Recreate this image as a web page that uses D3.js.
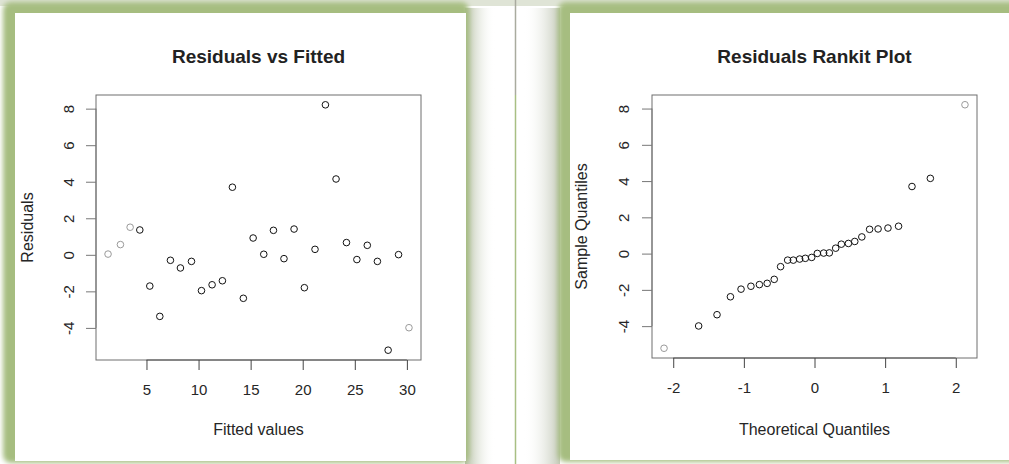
<!DOCTYPE html>
<html>
<head>
<meta charset="utf-8">
<script src="https://cdn.jsdelivr.net/npm/d3@7"></script>
<style>
  html, body { margin: 0; padding: 0; background: #ffffff; }
  svg { display: block; font-family: "Liberation Sans", Arial, sans-serif; }
</style>
</head>
<body>
<svg id="chart" width="1009" height="464"></svg>
<script>
// Fitted values and residuals of the regression model
const fitted = [1.31, 2.50, 3.43, 4.36, 5.32, 6.28, 7.30, 8.26, 9.32, 10.28,
                11.30, 12.29, 13.25, 14.30, 15.24, 16.26, 17.19, 18.20, 19.17, 20.16,
                21.18, 22.18, 23.20, 24.20, 25.20, 26.20, 27.17, 28.20, 29.20, 30.20];
const residuals = [0.04, 0.56, 1.51, 1.36, -1.71, -3.37, -0.30, -0.72, -0.36, -1.96,
                   -1.64, -1.42, 3.70, -2.38, 0.92, 0.03, 1.34, -0.21, 1.41, -1.80,
                   0.30, 8.21, 4.15, 0.67, -0.26, 0.52, -0.36, -5.22, 0.01, -3.99];

// Normal probability (rankit) plot: theoretical vs ordered sample quantiles
const theoreticalQuantiles = [-2.13, -1.64, -1.38, -1.19, -1.04, -0.90, -0.78, -0.67, -0.57, -0.48,
                              -0.38, -0.30, -0.21, -0.13, -0.04, 0.04, 0.13, 0.21, 0.30, 0.38,
                              0.48, 0.57, 0.67, 0.78, 0.90, 1.04, 1.19, 1.38, 1.64, 2.13];
const sampleQuantiles = [-5.22, -3.99, -3.37, -2.38, -1.96, -1.80, -1.71, -1.64, -1.42, -0.72,
                         -0.36, -0.36, -0.30, -0.26, -0.21, 0.01, 0.03, 0.04, 0.30, 0.52,
                         0.56, 0.67, 0.92, 1.34, 1.36, 1.41, 1.51, 3.70, 4.15, 8.21];

// Tick labels
const fittedTicks = [5, 10, 15, 20, 25, 30];
const residualTicks = [-4, -2, 0, 2, 4, 6, 8];
const theoreticalTicks = [-2, -1, 0, 1, 2];

const svg = d3.select("#chart");
const defs = svg.append("defs");

defs.append("filter").attr("id", "soft").attr("x", "-5%").attr("y", "-5%")
  .attr("width", "110%").attr("height", "110%")
  .append("feGaussianBlur").attr("stdDeviation", 2.6);

const shadeR = defs.append("linearGradient").attr("id", "shadeR");
shadeR.append("stop").attr("offset", "0%").attr("stop-color", "#b4bea3");
shadeR.append("stop").attr("offset", "100%").attr("stop-color", "#ffffff").attr("stop-opacity", 0);
const shadeL = defs.append("linearGradient").attr("id", "shadeL");
shadeL.append("stop").attr("offset", "0%").attr("stop-color", "#ffffff").attr("stop-opacity", 0);
shadeL.append("stop").attr("offset", "100%").attr("stop-color", "#c3c9b8");

// Page background strip along the top
svg.append("rect").attr("x", 0).attr("y", 0).attr("width", 1009).attr("height", 6)
  .attr("fill", "#dfe4d6");

// Divider between the two panels
svg.append("line").attr("x1", 515.5).attr("x2", 515.5).attr("y1", 0).attr("y2", 95)
  .attr("stroke", "#a9ab9f").attr("stroke-width", 1.5);
svg.append("line").attr("x1", 515.5).attr("x2", 515.5).attr("y1", 95).attr("y2", 464)
  .attr("stroke", "#a8bf83").attr("stroke-width", 1.5);

// Card frames
function card(x, y, w, h, shadeSide) {
  if (shadeSide === "right") {
    svg.append("rect").attr("x", x + w - 4).attr("y", y + 6).attr("width", 30).attr("height", h - 4)
      .attr("fill", "url(#shadeR)");
  } else {
    svg.append("rect").attr("x", x - 34).attr("y", y + 6).attr("width", 36).attr("height", h - 4)
      .attr("fill", "url(#shadeL)");
  }
  svg.append("rect").attr("x", x).attr("y", y).attr("width", w).attr("height", h)
    .attr("rx", 8).attr("fill", "#a6bd80").attr("filter", "url(#soft)");
  svg.append("rect").attr("x", x + 12).attr("y", y + 11).attr("width", w - 15).attr("height", h - 13)
    .attr("fill", "#ffffff");
}
card(3, 2, 466, 461, "right");
card(558, 2, 470, 460, "left");

const textColor = "#262626";
const plainNumber = d => String(d);   // hyphen-minus, as in R graphics

function panel(opts) {
  const { left, right, top, bottom, xs, ys, xTicks, yTicks, title, xTitle, yTitle,
          yLabelOffset, yTitleX } = opts;
  const g = svg.append("g");

  const pad = ([a, b]) => { const d = (b - a) * 0.04; return [a - d, b + d]; };
  const x = d3.scaleLinear().domain(pad(d3.extent(xs))).range([left, right]);
  const y = d3.scaleLinear().domain(pad(d3.extent(ys))).range([bottom, top]);

  // plot box
  g.append("rect").attr("x", left).attr("y", top)
    .attr("width", right - left).attr("height", bottom - top)
    .attr("fill", "none").attr("stroke", "#6e6e6e").attr("stroke-width", 1);

  // x axis
  const xa = g.append("g").attr("transform", `translate(0,${bottom})`)
    .call(d3.axisBottom(x).tickValues(xTicks).tickSize(10).tickPadding(14).tickFormat(plainNumber));
  xa.select(".domain").attr("stroke", "#555").attr("d", `M${x(xTicks[0])},0H${x(xTicks[xTicks.length - 1])}`);
  xa.selectAll(".tick line").attr("stroke", "#444");
  xa.selectAll(".tick text").attr("fill", textColor).attr("font-size", 15)
    .attr("font-family", "Liberation Sans, Arial, sans-serif");

  // y axis with labels parallel to the axis
  const ya = g.append("g").attr("transform", `translate(${left},0)`)
    .call(d3.axisLeft(y).tickValues(yTicks).tickSize(10).tickFormat(plainNumber));
  ya.select(".domain").attr("stroke", "#777").attr("d", `M0,${y(yTicks[0])}V${y(yTicks[yTicks.length - 1])}`);
  ya.selectAll(".tick line").attr("stroke", "#777");
  ya.selectAll(".tick text")
    .attr("x", 0).attr("dy", 0).attr("text-anchor", "middle")
    .attr("transform", `translate(${-yLabelOffset},0) rotate(-90)`)
    .attr("fill", textColor).attr("font-size", 15)
    .attr("font-family", "Liberation Sans, Arial, sans-serif");

  // points; those hugging the left/right edges of the box are lighter
  g.append("g").selectAll("circle")
    .data(xs.map((v, i) => [v, ys[i]]))
    .join("circle")
    .attr("cx", d => x(d[0])).attr("cy", d => y(d[1])).attr("r", 3.3)
    .attr("fill", "none")
    .attr("stroke", d => (x(d[0]) - left < 36 || right - x(d[0]) < 16) ? "#9a9a9a" : "#111")
    .attr("stroke-width", 1);

  const cx = (left + right) / 2;
  g.append("text").attr("x", cx).attr("y", 63).attr("text-anchor", "middle")
    .attr("font-size", 19).attr("font-weight", "bold").attr("fill", "#222").text(title);
  g.append("text").attr("x", cx).attr("y", 435).attr("text-anchor", "middle")
    .attr("font-size", 16).attr("fill", textColor).text(xTitle);
  g.append("text").attr("transform", `translate(${yTitleX},${(top + bottom) / 2}) rotate(-90)`)
    .attr("text-anchor", "middle").attr("font-size", 16).attr("fill", textColor).text(yTitle);
}

panel({
  left: 96, right: 421, top: 95, bottom: 360,
  xs: fitted, ys: residuals,
  xTicks: fittedTicks, yTicks: residualTicks,
  title: "Residuals vs Fitted", xTitle: "Fitted values", yTitle: "Residuals",
  yLabelOffset: 22.5, yTitleX: 33
});

panel({
  left: 652, right: 977, top: 95, bottom: 358,
  xs: theoreticalQuantiles, ys: sampleQuantiles,
  xTicks: theoreticalTicks, yTicks: residualTicks,
  title: "Residuals Rankit Plot", xTitle: "Theoretical Quantiles", yTitle: "Sample Quantiles",
  yLabelOffset: 23.5, yTitleX: 587
});
</script>
</body>
</html>
